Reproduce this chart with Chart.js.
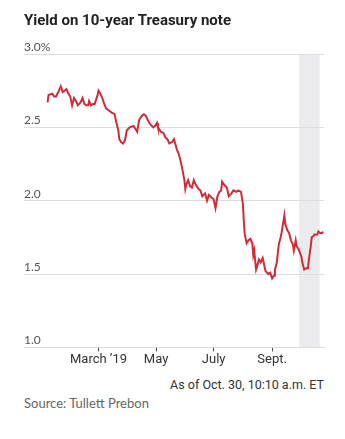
<!DOCTYPE html>
<html>
<head>
<meta charset="utf-8">
<script src="https://cdn.jsdelivr.net/npm/chart.js@4"></script>
<style>
  html, body { margin: 0; padding: 0; background: #fff; }
  #wrap { position: relative; width: 345px; height: 439px; overflow: hidden; }
  #title { position: absolute; left: 24px; top: 11px; font: bold 15px 'Roboto', sans-serif; color: #222; white-space: nowrap; }
  #chart { position: absolute; left: 0; top: 0; }
  #note { position: absolute; right: 21px; top: 377px; font: 12.5px 'Liberation Sans Narrow', 'Roboto', sans-serif; color: #333; white-space: nowrap; }
  #source { position: absolute; left: 24px; top: 395px; font: 13px 'Lato', sans-serif; color: #666; white-space: nowrap; }
</style>
</head>
<body>
<div id="wrap">
  <canvas id="chart" width="345" height="372"></canvas>
  <div id="title">Yield on 10-year Treasury note</div>
  <div id="note">As of Oct. 30, 10:10 a.m. ET</div>
  <div id="source">Source: Tullett Prebon</div>
</div>
<script>
// x values are days counted from Jan. 1, 2019
const days = [5, 6, 10, 12, 14, 17, 19, 21, 23, 25, 27, 29, 31, 33, 35, 37, 40, 42, 44, 46,
  48, 49, 51, 53, 55, 58, 59, 61, 63, 65, 67, 69, 71, 73, 76, 78, 80, 81, 83, 85,
  87, 89, 92, 96, 98, 100, 102, 105, 107, 109, 112, 114, 117, 119, 121, 122, 125, 128, 130, 132,
  134, 137, 139, 140, 142, 144, 146, 148, 150, 151, 152, 154, 156, 158, 160, 162, 165, 167, 169, 172,
  174, 176, 179, 181, 183, 185, 187, 189, 190, 192, 195, 197, 200, 202, 205, 207, 210, 212, 213, 214,
  216, 218, 220, 222, 223, 224, 226, 227, 229, 231, 233, 234, 236, 239, 241, 243, 245, 246, 248, 250,
  252, 253, 255, 256, 257, 259, 261, 263, 265, 266, 268, 269, 271, 274, 275, 277, 279, 281, 282, 284,
  285, 287, 288, 291, 292, 294, 296, 297];
const yields = [2.67, 2.72, 2.73, 2.71, 2.71, 2.75, 2.78, 2.74, 2.75, 2.76, 2.73, 2.71, 2.65, 2.70, 2.68, 2.65, 2.67, 2.70, 2.66, 2.65,
  2.65, 2.68, 2.65, 2.66, 2.66, 2.72, 2.75, 2.73, 2.70, 2.66, 2.63, 2.62, 2.61, 2.60, 2.59, 2.53, 2.48, 2.42, 2.40, 2.39,
  2.41, 2.48, 2.50, 2.51, 2.49, 2.47, 2.55, 2.58, 2.59, 2.58, 2.54, 2.52, 2.50, 2.51, 2.53, 2.50, 2.47, 2.46, 2.43, 2.42,
  2.39, 2.40, 2.42, 2.42, 2.35, 2.32, 2.27, 2.21, 2.14, 2.08, 2.11, 2.14, 2.10, 2.09, 2.14, 2.11, 2.08, 2.07, 2.03, 2.05,
  2.00, 2.04, 2.02, 2.01, 1.95, 2.03, 2.06, 2.07, 2.13, 2.11, 2.09, 2.03, 2.05, 2.07, 2.06, 2.07, 2.06, 1.98, 1.86, 1.77,
  1.71, 1.73, 1.74, 1.71, 1.63, 1.66, 1.53, 1.55, 1.60, 1.58, 1.61, 1.58, 1.52, 1.50, 1.51, 1.47, 1.49, 1.53, 1.58, 1.70,
  1.75, 1.78, 1.86, 1.90, 1.84, 1.80, 1.78, 1.73, 1.70, 1.66, 1.73, 1.69, 1.67, 1.62, 1.58, 1.53, 1.54, 1.54, 1.60, 1.69,
  1.75, 1.76, 1.77, 1.77, 1.79, 1.78, 1.78, 1.79];

const xTickDays = [59, 120, 181, 243];
const xTickLabels = ['March \u201919', 'May', 'July', 'Sept.'];
const yTicks = [1.0, 1.5, 2.0, 2.5, 3.0];
const shadeFrom = 271.5, shadeTo = 293.5;

const narrow = "'Liberation Sans Narrow', 'Roboto', sans-serif";

// grey band behind the line
const shadePlugin = {
    id: 'shade',
    beforeDraw(chart) {
        const { ctx, chartArea, scales } = chart;
        const x0 = scales.x.getPixelForValue(shadeFrom);
        const x1 = scales.x.getPixelForValue(shadeTo);
        ctx.save();
        ctx.fillStyle = '#ebebed';
        ctx.fillRect(x0, chartArea.top, x1 - x0, chartArea.bottom - chartArea.top);
        ctx.restore();
    }
};

new Chart(document.getElementById('chart').getContext('2d'), {
    type: 'line',
    data: {
        datasets: [{
            data: days.map((d, i) => ({ x: d, y: yields[i] })),
            borderColor: '#d12b3a',
            borderWidth: 2,
            pointRadius: 0,
            tension: 0,
            fill: false
        }]
    },
    options: {
        responsive: false,
        animation: false,
        devicePixelRatio: 1,
        layout: { padding: { left: 24, right: 21, top: 54, bottom: 3 } },
        plugins: {
            legend: { display: false },
            tooltip: { enabled: false }
        },
        scales: {
            x: {
                type: 'linear',
                min: -20,
                max: 298,
                afterBuildTicks: (scale) => { scale.ticks = xTickDays.map(v => ({ value: v })); },
                grid: { display: true, drawOnChartArea: false, drawTicks: true, tickLength: 4, tickColor: '#444' },
                border: { display: true, color: '#ddd' },
                ticks: {
                    autoSkip: false,
                    maxRotation: 0,
                    padding: 1,
                    color: '#333',
                    font: { family: narrow, size: 13 },
                    callback: (v) => xTickLabels[xTickDays.indexOf(v)]
                }
            },
            y: {
                min: 1,
                max: 3,
                afterBuildTicks: (scale) => { scale.ticks = yTicks.map(v => ({ value: v })); },
                grid: { color: '#ddd', drawTicks: false },
                border: { display: false },
                ticks: {
                    mirror: true,
                    padding: 0,
                    labelOffset: -7,
                    color: '#555',
                    font: { family: 'Lato, sans-serif', size: 12 },
                    callback: (v) => v === 3 ? '3.0%' : v.toFixed(1)
                }
            }
        }
    },
    plugins: [shadePlugin]
});
</script>
</body>
</html>
